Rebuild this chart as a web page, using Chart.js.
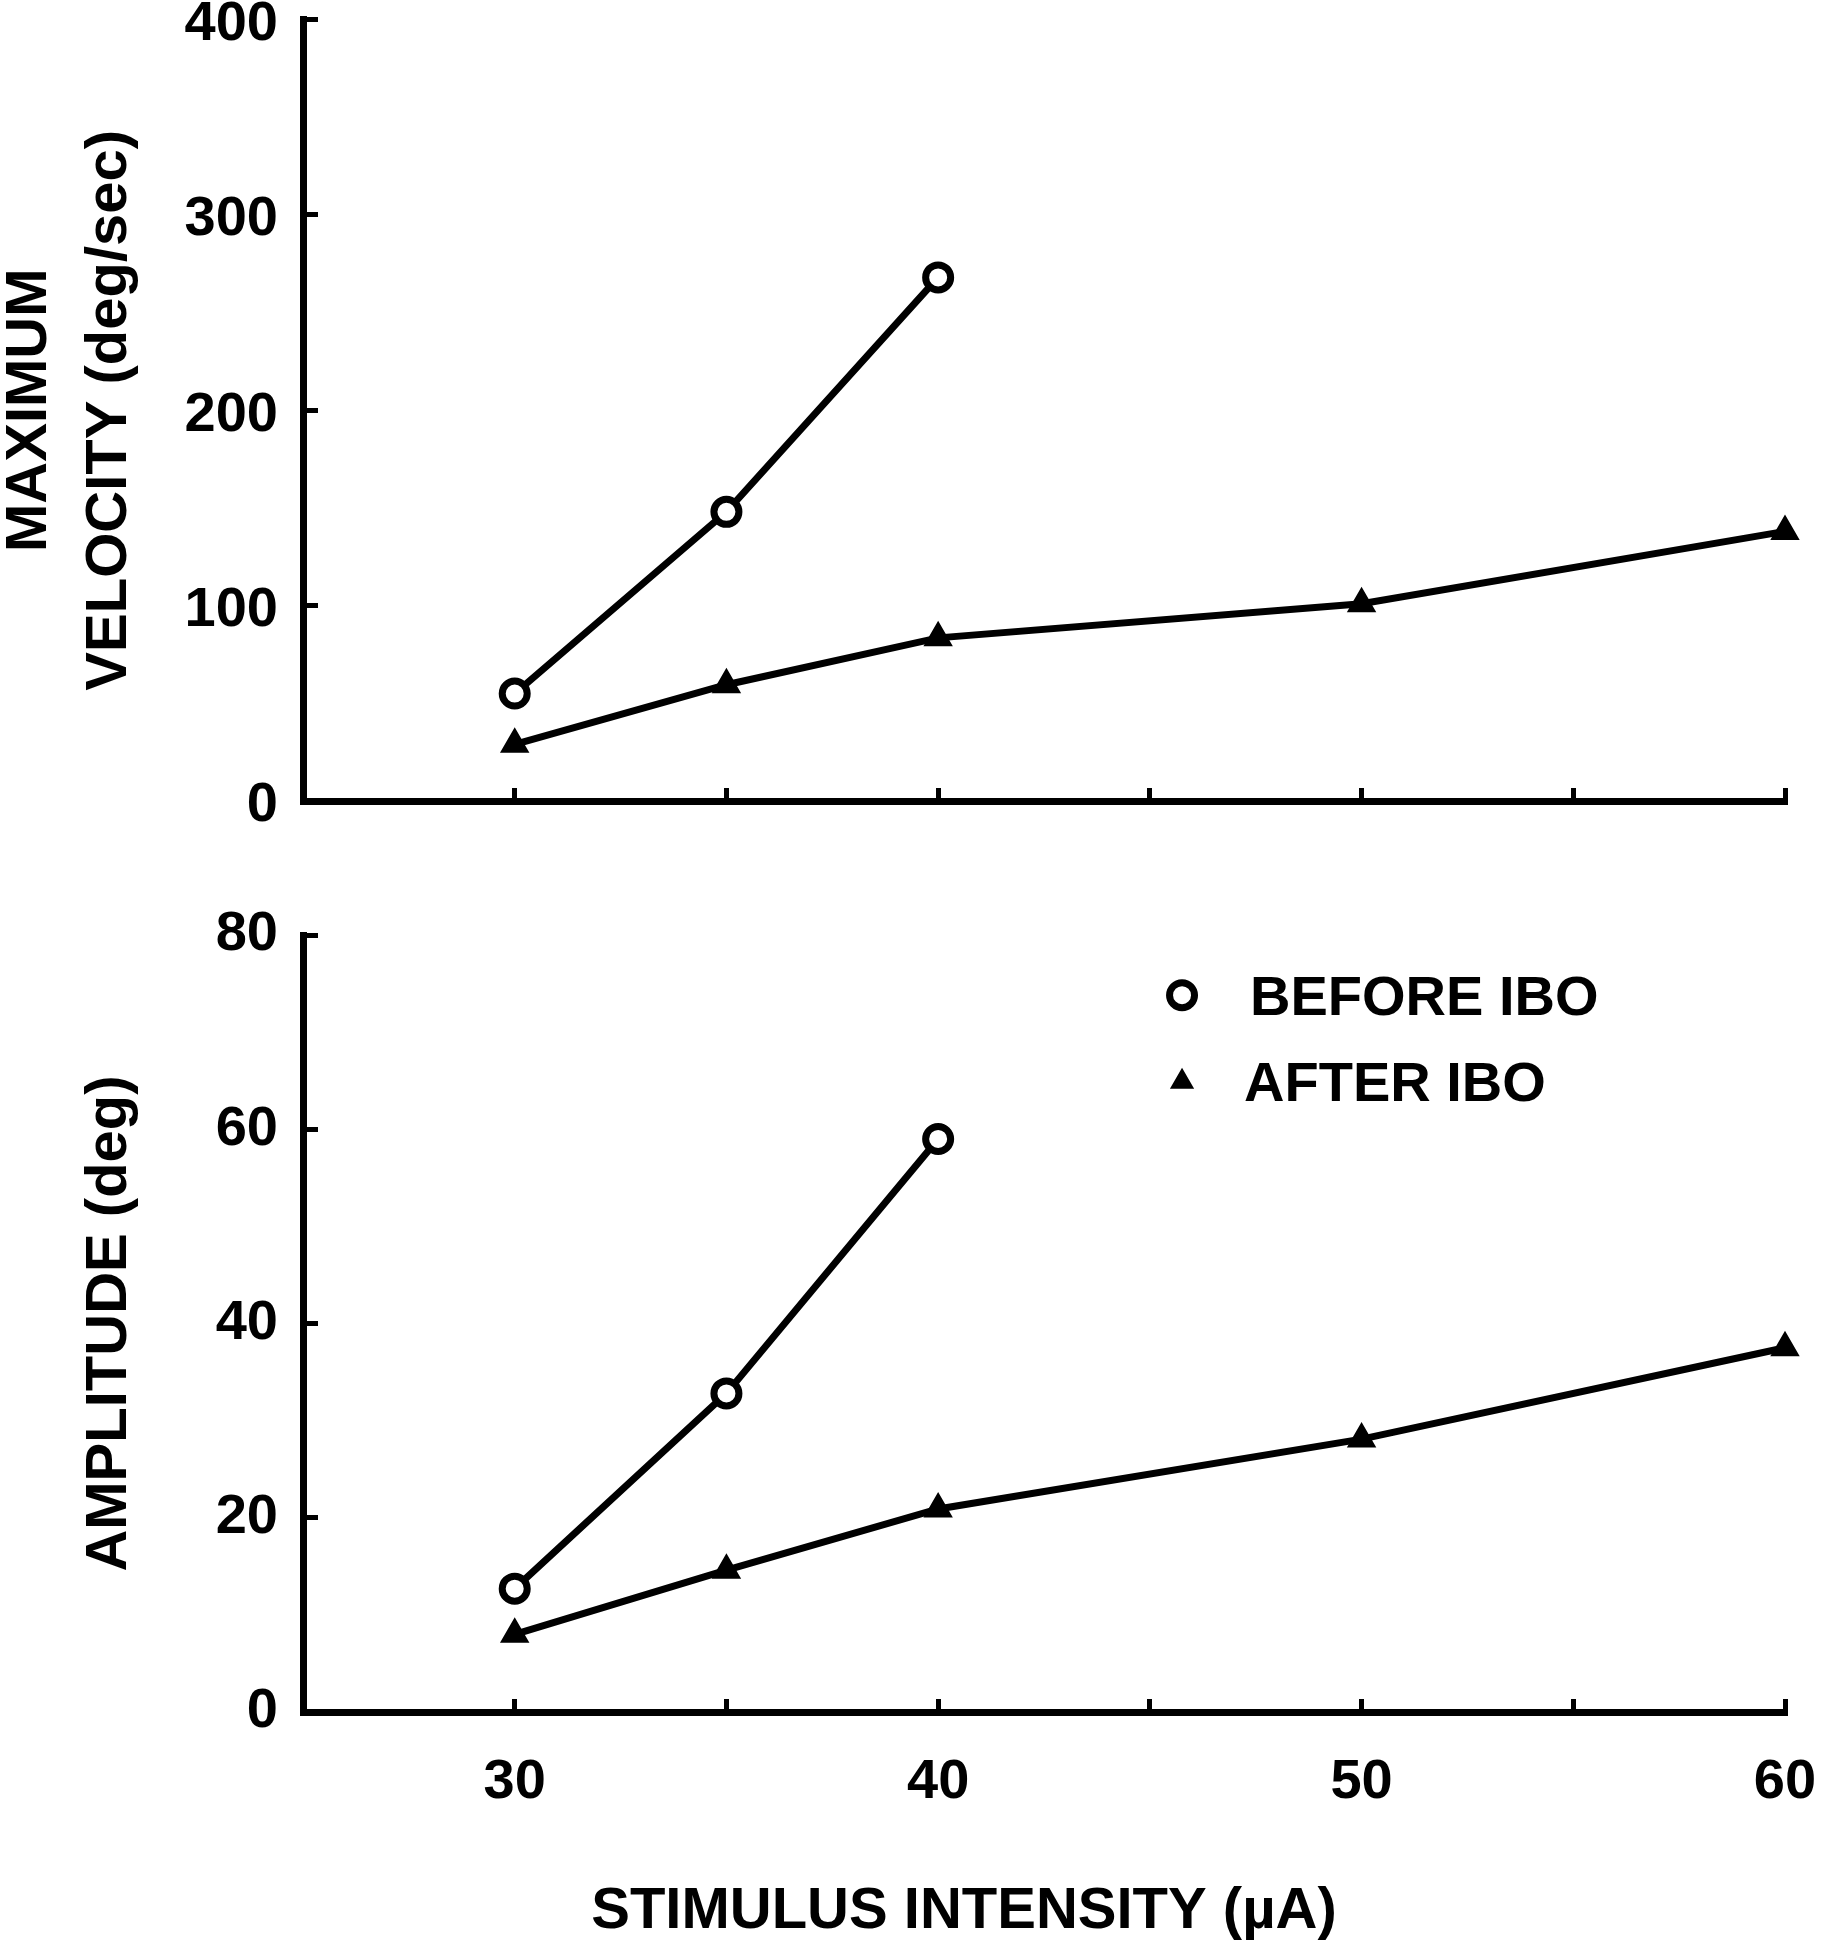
<!DOCTYPE html>
<html><head><meta charset="utf-8">
<script src="https://cdn.jsdelivr.net/npm/chart.js@4/dist/chart.umd.min.js"></script>
<style>
html,body{margin:0;padding:0;background:#fff;overflow:hidden;width:1821px;height:1950px;}
canvas{position:absolute;left:0;}
#topChart{top:0}
#botChart{top:860px}
</style></head><body>
<canvas id="topChart" width="1821" height="900"></canvas>
<canvas id="botChart" width="1821" height="1090"></canvas>
<script>
// ---- data ----
const intensityBefore = [30, 35, 40];
const intensityAfter = [30, 35, 40, 50, 60];
const velocityBefore = [55, 148, 268];
const velocityAfter = [29, 59.5, 83.5, 101, 138];
const amplitudeBefore = [12.7, 32.8, 59.0];
const amplitudeAfter = [8.0, 14.6, 20.9, 28.1, 37.5];
const xTickLabels = [30, 40, 50, 60];
const seriesLabels = ['BEFORE IBO', 'AFTER IBO'];
const velocityTitle = ['MAXIMUM', 'VELOCITY (deg/sec)'];
const amplitudeTitle = 'AMPLITUDE (deg)';
const xTitle = 'STIMULUS INTENSITY (\u00B5A)';

const FONT = "'Liberation Sans', Arial, sans-serif";
const pts = (xs, ys) => xs.map((x, i) => ({x: x, y: ys[i]}));

function datasets(before, after) {
  return [
    {label: seriesLabels[0], data: pts(intensityBefore, before), borderColor: '#000', borderWidth: 7,
     pointStyle: 'circle', pointRadius: 12.5, pointBorderWidth: 7, pointBackgroundColor: '#fff',
     pointBorderColor: '#000', tension: 0, clip: false},
    {label: seriesLabels[1], data: pts(intensityAfter, after), borderColor: '#000', borderWidth: 7,
     pointStyle: 'triangle', pointRadius: 15, pointBorderWidth: 2, pointBackgroundColor: '#000',
     pointBorderColor: '#000', tension: 0, clip: false}
  ];
}

function zeroPad(s) { s.paddingTop = 0; s.paddingBottom = 0; s.paddingLeft = 0; s.paddingRight = 0; }

function makeOptions(cfg) {
  return {
    responsive: false, animation: false, devicePixelRatio: 1,
    layout: {padding: {left: 0, right: 36, top: cfg.padTop, bottom: 0}},
    plugins: {legend: {display: false}, tooltip: {enabled: false}, annotate: cfg.annotate || {}},
    scales: {
      x: {
        type: 'linear', min: 25, max: 60,
        border: {display: true, color: '#000', width: 7},
        grid: {drawOnChartArea: false, drawTicks: true, tickLength: -13, color: '#000', lineWidth: 5, tickWidth: 5},
        ticks: {stepSize: 5, autoSkip: false, maxRotation: 0, padding: 50, color: '#000',
          font: {family: FONT, weight: 'bold', size: 56},
          callback: v => (cfg.showXLabels && xTickLabels.includes(v)) ? String(v) : ''},
        afterFit: s => { s.height = cfg.xHeight; zeroPad(s); }
      },
      y: {
        type: 'linear', min: 0, max: cfg.yMax,
        border: {display: true, color: '#000', width: 7},
        grid: {drawOnChartArea: false, drawTicks: true, tickLength: -15, color: '#000', lineWidth: 5, tickWidth: 5},
        ticks: {stepSize: cfg.yStep, padding: 40, labelOffset: cfg.labelOffset, color: '#000',
          font: {family: FONT, weight: 'bold', size: 56}},
        title: {display: true, text: cfg.yTitle, color: '#000', padding: {top: cfg.titlePad, bottom: 0},
          font: {family: FONT, weight: 'bold', size: 58, lineHeight: 1.38}},
        afterFit: s => { s.width = 303; zeroPad(s); }
      }
    }
  };
}

const annotate = {
  id: 'annotate',
  afterDraw(chart, args, opts) {
    const ctx = chart.ctx;
    if (opts.legend) {
      const xs = chart.scales.x, ys = chart.scales.y, L = opts.legend;
      chart.data.datasets.forEach((ds, i) => {
        const px = xs.getPixelForValue(L.x);
        const py = ys.getPixelForValue(L.y[i]);
        ctx.save();
        ctx.fillStyle = ds.pointBackgroundColor;
        ctx.strokeStyle = ds.pointBorderColor;
        ctx.lineWidth = ds.pointBorderWidth;
        Chart.helpers.drawPoint(ctx, {pointStyle: ds.pointStyle, radius: L.radius[i], borderWidth: ds.pointBorderWidth, rotation: 0}, px, py);
        ctx.fillStyle = '#000';
        ctx.font = 'bold 56px ' + FONT;
        ctx.textAlign = 'left';
        ctx.textBaseline = 'middle';
        ctx.fillText(ds.label, px + L.gap[i], py + 4);
        ctx.restore();
      });
    }
    if (opts.xTitle) {
      const T = opts.xTitle;
      ctx.save();
      ctx.fillStyle = '#000';
      ctx.font = 'bold 58px ' + FONT;
      ctx.textAlign = 'center';
      ctx.textBaseline = 'middle';
      ctx.fillText(T.text, T.x, T.y);
      ctx.restore();
    }
  }
};
Chart.register(annotate);

new Chart(document.getElementById('topChart'), {
  type: 'line',
  data: {datasets: datasets(velocityBefore, velocityAfter)},
  options: makeOptions({padTop: 15, xHeight: 99, yMax: 400, yStep: 100, yTitle: velocityTitle, titlePad: -10,
    showXLabels: false, labelOffset: 5})
});

new Chart(document.getElementById('botChart'), {
  type: 'line',
  data: {datasets: datasets(amplitudeBefore, amplitudeAfter)},
  options: makeOptions({padTop: 75, xHeight: 238, yMax: 80, yStep: 20, yTitle: amplitudeTitle, titlePad: 70,
    showXLabels: true, labelOffset: 0,
    annotate: {legend: {x: 45.76, y: [73.8, 64.9], radius: [12.5, 12], gap: [68, 62]},
               xTitle: {text: xTitle, x: 964, y: 1052}}})
});
</script>
</body></html>
